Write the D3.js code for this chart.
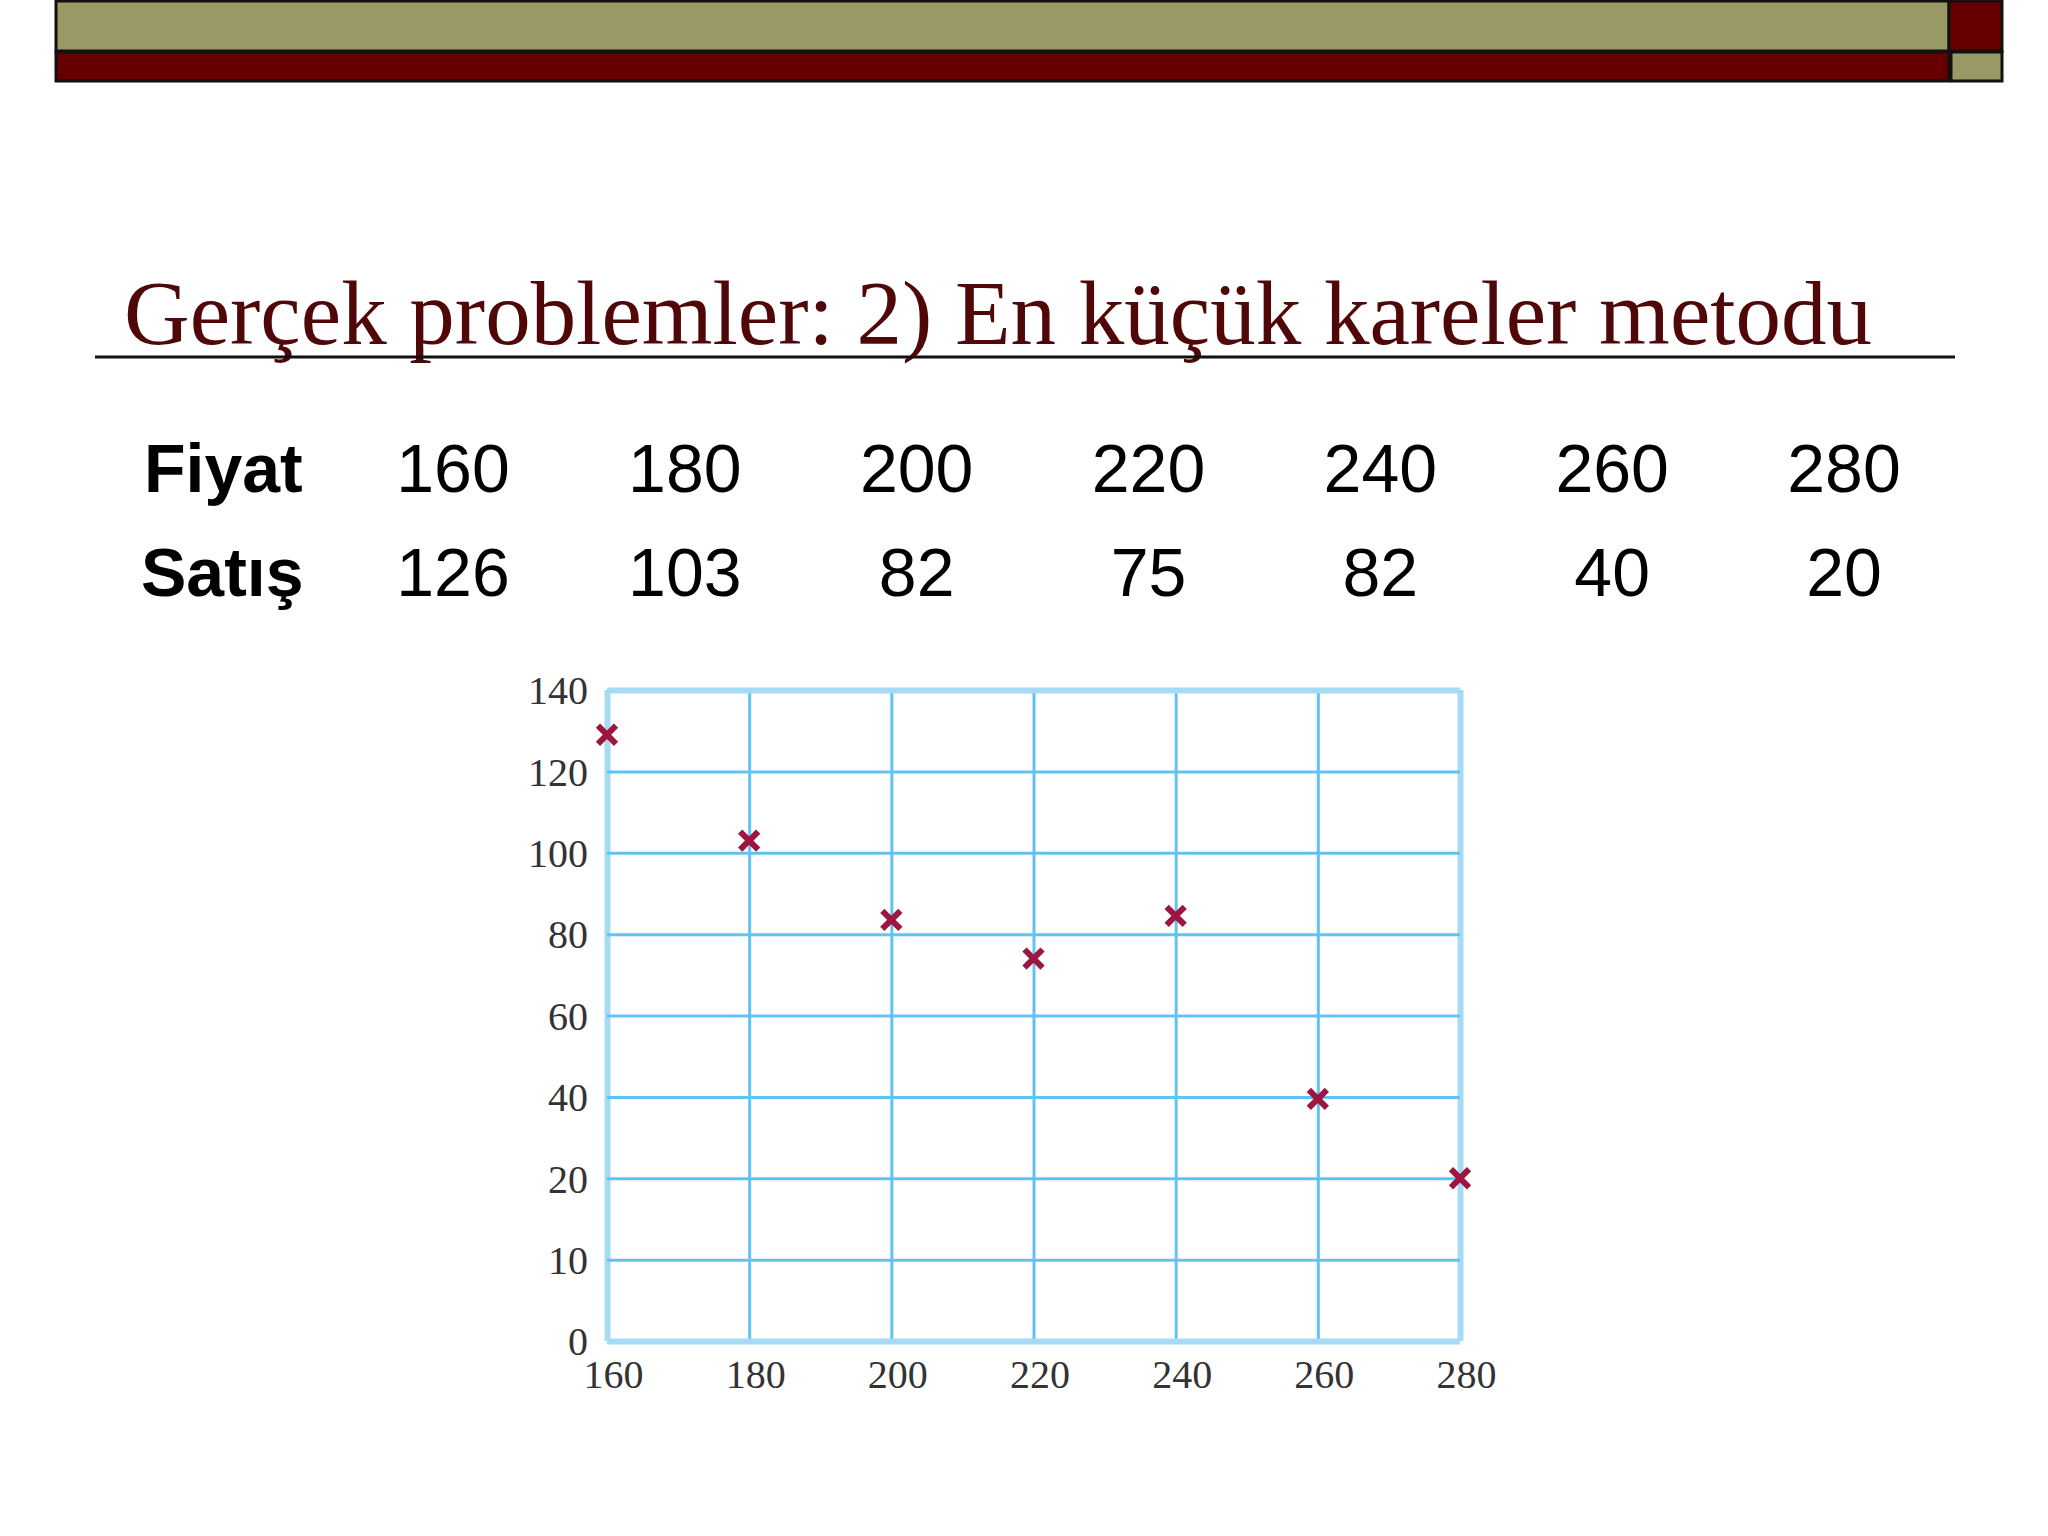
<!DOCTYPE html>
<html>
<head>
<meta charset="utf-8">
<script src="https://cdn.jsdelivr.net/npm/d3@7"></script>
<style>
  body { margin: 0; background: #fff; }
</style>
</head>
<body>
<div id="container"></div>
<script>
    // data
    const prices = [160, 180, 200, 220, 240, 260, 280];
    const salesTable = [126, 103, 82, 75, 82, 40, 20];
    // where the crosses sit on the plot
    const salesPlotted = [129, 103, 83.5, 74, 84.5, 39.5, 20];
    const xTicks = [160, 180, 200, 220, 240, 260, 280];
    const yTicks = [0, 10, 20, 40, 60, 80, 100, 120, 140];
    const rowLabels = ["Fiyat", "Satış"];
    const title = "Gerçek problemler: 2) En küçük kareler metodu";

    const width = 2048;
    const height = 1536;

    const svg = d3.create("svg")
        .attr("width", width)
        .attr("height", height)
        .style("background", "#fff");

    // top decoration bar
    const olive = "#999966", maroon = "#660000";
    svg.append("rect").attr("x", 56).attr("y", 1).attr("width", 1893).attr("height", 50)
        .attr("fill", olive).attr("stroke", "#111").attr("stroke-width", 3);
    svg.append("rect").attr("x", 1949).attr("y", 1).attr("width", 53).attr("height", 50)
        .attr("fill", maroon).attr("stroke", "#111").attr("stroke-width", 3);
    svg.append("rect").attr("x", 56).attr("y", 52).attr("width", 1893).attr("height", 29)
        .attr("fill", maroon).attr("stroke", "#111").attr("stroke-width", 3);
    svg.append("rect").attr("x", 1951).attr("y", 52).attr("width", 51).attr("height", 29)
        .attr("fill", olive).attr("stroke", "#111").attr("stroke-width", 3);

    // title + rule
    svg.append("text")
        .attr("x", 124)
        .attr("y", 344)
        .attr("font-family", "Liberation Serif, Times New Roman, serif")
        .attr("font-size", 90)
        .attr("fill", "#4f0707")
        .attr("textLength", 1748)
        .attr("lengthAdjust", "spacingAndGlyphs")
        .text(title);
    svg.append("line")
        .attr("x1", 95).attr("x2", 1955)
        .attr("y1", 357).attr("y2", 357)
        .attr("stroke", "#111").attr("stroke-width", 3);

    // data table
    const colX = d3.scaleLinear().domain([160, 280]).range([453, 1844]);
    const rowY = [492, 596];
    const tableFont = "Liberation Sans, Arial, sans-serif";
    rowLabels.forEach((lab, i) => {
        svg.append("text")
            .attr("x", i === 0 ? 144 : 141)
            .attr("y", rowY[i])
            .attr("font-family", tableFont)
            .attr("font-weight", "bold")
            .attr("font-size", 68)
            .attr("fill", "#000")
            .text(lab);
    });
    [prices, salesTable].forEach((row, i) => {
        svg.append("g").selectAll("text")
            .data(row)
            .join("text")
            .attr("x", (d, j) => colX(prices[j]))
            .attr("y", rowY[i])
            .attr("text-anchor", "middle")
            .attr("font-family", tableFont)
            .attr("font-size", 68)
            .attr("fill", "#000")
            .text(d => d);
    });

    // scatter chart
    const plotLeft = 607, plotRight = 1460, plotTop = 690, plotBottom = 1341;
    const x = d3.scaleLinear().domain([160, 280]).range([plotLeft, plotRight]);
    // y grid is evenly spaced but labelled 0,10,20,40,... -> piecewise scale
    const y = d3.scaleLinear()
        .domain(yTicks)
        .range(yTicks.map((d, i) => plotBottom - i * (plotBottom - plotTop) / (yTicks.length - 1)));

    const gridColor = "#62c3f2";
    const frameColor = "#a6dbf6";

    // vertical grid
    svg.append("g")
        .attr("transform", `translate(0,${plotBottom})`)
        .call(d3.axisBottom(x).tickValues(xTicks).tickSize(-(plotBottom - plotTop)).tickFormat(""))
        .call(g => g.select(".domain").remove())
        .call(g => g.selectAll(".tick line")
            .attr("stroke", d => (d === 160 || d === 280) ? frameColor : gridColor)
            .attr("stroke-width", d => (d === 160 || d === 280) ? 6 : 3));

    // horizontal grid
    svg.append("g")
        .attr("transform", `translate(${plotLeft},0)`)
        .call(d3.axisLeft(y).tickValues(yTicks).tickSize(-(plotRight - plotLeft)).tickFormat(""))
        .call(g => g.select(".domain").remove())
        .call(g => g.selectAll(".tick line")
            .attr("stroke", d => (d === 0 || d === 140) ? frameColor : gridColor)
            .attr("stroke-width", d => (d === 0 || d === 140) ? 6 : 3));

    const tickFont = "Liberation Serif, Times New Roman, serif";

    // x labels
    svg.append("g")
        .attr("transform", `translate(6,${plotBottom})`)
        .call(d3.axisBottom(x).tickValues(xTicks).tickSize(0).tickPadding(19))
        .call(g => g.select(".domain").remove())
        .call(g => g.selectAll("text")
            .attr("font-family", tickFont)
            .attr("font-size", 40)
            .attr("fill", "#333"));

    // y labels
    svg.append("g")
        .attr("transform", `translate(${plotLeft},1)`)
        .call(d3.axisLeft(y).tickValues(yTicks).tickSize(0).tickPadding(19))
        .call(g => g.select(".domain").remove())
        .call(g => g.selectAll("text")
            .attr("font-family", tickFont)
            .attr("font-size", 40)
            .attr("fill", "#333"));

    // crosses
    svg.append("g").selectAll("path")
        .data(prices)
        .join("path")
        .attr("transform", (d, i) => `translate(${x(d)},${y(salesPlotted[i])})`)
        .attr("d", d3.symbol(d3.symbolX, 215))
        .attr("fill", "none")
        .attr("stroke", "#9e1640")
        .attr("stroke-width", 6);

    document.getElementById("container").append(svg.node());
</script>
</body>
</html>
